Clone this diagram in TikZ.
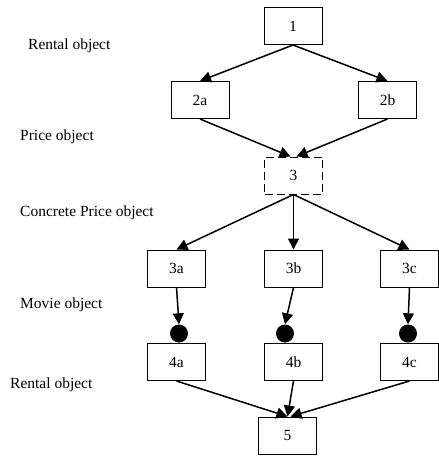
\documentclass[tikz,border=0pt]{standalone}
\usepackage{fontspec}
\setmainfont{Liberation Serif}
\usetikzlibrary{arrows.meta}
\begin{document}
\begin{tikzpicture}[x=1pt,y=-1pt,
    box/.style={draw,line width=1pt,minimum width=58pt,minimum height=37pt,
                inner sep=0pt,font=\fontsize{15.5}{18}\selectfont},
    dashbox/.style={box,dash pattern=on 8pt off 4pt},
    dot/.style={circle,fill=black,minimum size=18pt,inner sep=0pt},
    lbl/.style={anchor=west,inner sep=0pt,font=\fontsize{15.5}{18}\selectfont},
    arr/.style={line width=1.5pt,-{Triangle[length=11pt,width=11pt]}}]
      \useasboundingbox (0,0) rectangle (439,456);

      \node[lbl](lRent) at (28, 46) {Rental object};
      \node[lbl](lPrice) at (20,137) {Price object};
      \node[lbl](lConc) at (20,213) {Concrete Price object};
      \node[lbl](lMovie) at (20,305) {Movie object};
      \node[lbl](lRentB) at (10,385) {Rental object};

      \node[box](n1) at (293, 26) {1};
      \node[box](n2a) at (200,100) {2a};
      \node[box](n2b) at (387.5,100) {2b};
      \node[dashbox](n3) at (293.5,175.5) {3};
      \node[box](n3a) at (176.5,268.5) {3a};
      \node[box](n3b) at (293.5,268.5) {3b};
      \node[box](n3c) at (409.5,268.5) {3c};
      \node[dot](da) at (179,333.5) {};
      \node[dot](db) at (285,333.5) {};
      \node[dot](dc) at (408,333.5) {};
      \node[box](n4a) at (176.5,362) {4a};
      \node[box](n4b) at (293.5,362) {4b};
      \node[box](n4c) at (409.5,362) {4c};
      \node[box](n5) at (287.5,435.5) {5};

      \draw[arr] (n1.south) -- (n2a.north);
      \draw[arr] (n1.south) -- (n2b.north);
      \draw[arr] (n2a.south) -- ([xshift=-3pt]n3.north);
      \draw[arr] (n2b.south) -- ([xshift=3pt]n3.north);
      \draw[arr] (n3.south) -- (n3a.north);
      \draw[arr] (n3.south) -- (n3b.north);
      \draw[arr] (n3.south) -- (n3c.north);

      \draw[arr] (n3a.south) -- (da.north);
      \draw[arr] (n3b.south) -- (db.north);
      \draw[arr] (n3c.south) -- (dc.north);

      \draw[arr] (n4a.south) -- (n5.north);
      \draw[arr] (n4b.south) -- (n5.north);
      \draw[arr] (n4c.south) -- ([xshift=3pt]n5.north);
    \end{tikzpicture}
\end{document}
